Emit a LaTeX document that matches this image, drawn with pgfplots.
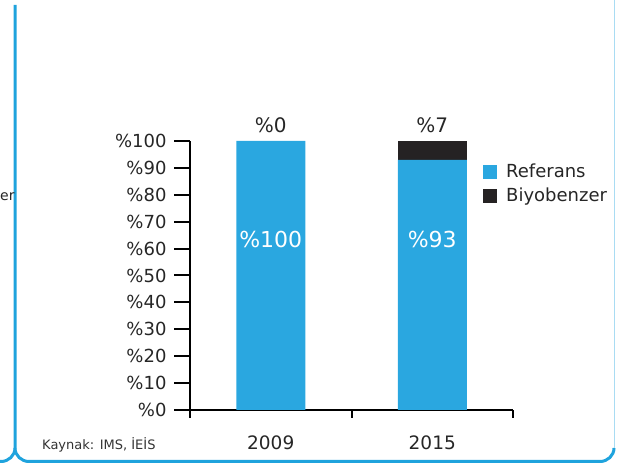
\documentclass[border=0pt]{standalone}
\usepackage{fontspec}
\setmainfont{DejaVu Sans}
\usepackage{pgfplots}
\pgfplotsset{compat=1.18}
\definecolor{refblue}{HTML}{2AA7E0}
\definecolor{biyoblack}{HTML}{252223}
\definecolor{frameblue}{HTML}{1FA3DD}
\definecolor{framelight}{HTML}{A9DCF3}
\newcommand{\fs}[1]{\fontsize{#1bp}{#1bp}\selectfont}

\begin{document}
\begin{tikzpicture}[x=1bp,y=1bp]
\begin{axis}[
  at={(190bp,54bp)}, anchor=south west,
  scale only axis, width=323bp, height=269bp,
  ybar stacked, bar width=69bp,
  xmin=0, xmax=2, ymin=0, ymax=100,
  axis lines=left,
  axis line style={line width=2.2bp, -},
  xtick={0.5,1.5}, xticklabels={2009,2015},
  minor xtick={0,1,2},
  ytick={0,10,...,100},
  yticklabel={\%\pgfmathprintnumber{\tick}},
  /pgf/number format/assume math mode=true,
  tick align=outside,
  major tick length=16bp, minor tick length=8bp,
  major x tick style={draw=none},
  tick style={line width=2bp, black},
  yticklabel style={font=\fs{18}, text=black!85, xshift=-4bp},
  xticklabel style={font=\fs{18.5}, text=black!85, yshift=-6bp},
  legend style={draw=none, fill=none, at={(rel axis cs:0.907,0.922)}, anchor=north west,
    font=\fs{18}, text=black!85, row sep=5bp, inner sep=0pt,
    /tikz/every odd column/.append style={column sep=7bp}},
  legend cell align=left,
  clip=false,
]
\addplot[fill=refblue, draw=none,
  legend image code/.code={\fill[refblue] (0bp,-7bp) rectangle (14bp,7bp);}]
  coordinates {(0.5,100) (1.5,93)};
\addlegendentry{Referans}
\addplot[fill=biyoblack, draw=none,
  legend image code/.code={\fill[biyoblack] (0bp,-7bp) rectangle (14bp,7bp);}]
  coordinates {(0.5,0) (1.5,7)};
\addlegendentry{Biyobenzer}
\coordinate (top1) at (axis cs:0.5,100);
\coordinate (top2) at (axis cs:1.5,100);
\coordinate (in1) at (axis cs:0.5,63);
\coordinate (in2) at (axis cs:1.5,63);
\end{axis}
% value labels, drawn above the bars
\node[anchor=south, font=\fs{20}, text=black!85, inner sep=0pt] at ([yshift=8bp]top1) {\%0};
\node[anchor=south, font=\fs{20}, text=black!85, inner sep=0pt] at ([yshift=8bp]top2) {\%7};
\node[text=white, font=\fs{22}] at ([yshift=1bp]in1) {\%100};
\node[text=white, font=\fs{22}] at ([yshift=1bp]in2) {\%93};
% frame of the page panel
\draw[frameblue, line width=3bp] (15,459) -- (15,16) to[out=-90,in=180] (29,2.5) -- (600,2.5) to[out=0,in=-90] (614,16);
\draw[frameblue, line width=3bp] (15,16) to[out=-90,in=0] (1,2.5) -- (-5,2.5);
\draw[framelight, line width=1bp] (614,16) -- (614,470);
\node[anchor=west, font=\fs{14}, text=black!85, inner sep=0pt] at (0,267) {er};
\node[anchor=west, font=\fs{13}, text=black!80, inner sep=0pt] at (42,19) {Kaynak: IMS, İEİS};
\pgfresetboundingbox
\useasboundingbox (0,0) rectangle (618,464);
\end{tikzpicture}
\end{document}
